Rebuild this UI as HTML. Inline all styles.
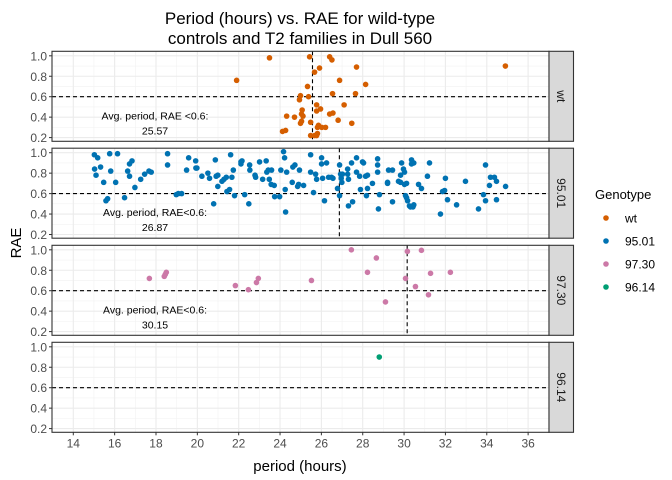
<!DOCTYPE html>
<html><head><meta charset="utf-8">
<style>
html,body{margin:0;padding:0;background:#fff;}
svg{display:block;font-family:"Liberation Sans",Arial,sans-serif;}
</style></head>
<body>
<svg id="chart" width="672" height="480" viewBox="0 0 672 480"></svg>
<script>
const genotypes = ["wt","95.01","97.30","96.14"];
const colors = ["#D55E00","#0072B2","#CC79A7","#009E73"];
const avgPeriods = [25.57, 26.87, 30.15, null];
const avgLabels = ["Avg. period, RAE <0.6:","Avg. period, RAE<0.6:","Avg. period, RAE<0.6:",null];
const xTicks = [14,16,18,20,22,24,26,28,30,32,34,36];
const yTicks = [0.2,0.4,0.6,0.8,1.0];
const yTickLabels = ["0.2","0.4","0.6","0.8","1.0"];

const wtPeriod = [23.49,25.43,26.40,26.51,27.70,25.91,25.67,21.90,26.88,28.14,25.33,26.54,27.65,24.99,25.38,24.94,25.77,27.10,25.96,25.77,25.07,25.04,24.32,24.70,25.11,26.40,26.56,26.81,27.47,25.04,24.99,25.48,25.86,25.81,26.02,26.20,24.27,24.12,25.48,25.67,25.81,25.77,34.90];
const wtRAE = [0.98,0.99,0.99,0.96,0.89,0.88,0.84,0.76,0.76,0.72,0.70,0.63,0.63,0.61,0.60,0.57,0.52,0.52,0.48,0.46,0.47,0.43,0.41,0.40,0.41,0.43,0.44,0.37,0.34,0.36,0.34,0.35,0.32,0.30,0.30,0.30,0.27,0.26,0.22,0.22,0.24,0.22,0.90];

const p9501Period = [15.02,15.18,15.03,15.10,15.32,15.47,15.76,15.81,16.14,16.05,15.58,15.66,16.48,16.84,16.72,16.63,16.72,16.98,17.26,17.45,17.66,17.77,18.56,18.56,18.98,19.08,19.24,19.58,19.48,19.92,19.93,19.98,20.22,20.51,20.59,20.79,20.87,20.91,20.99,20.99,21.19,21.29,21.40,21.43,21.56,21.61,21.67,21.74,21.80,22.11,22.16,22.11,22.29,22.49,22.53,22.54,22.79,22.82,23.01,23.16,23.33,23.36,23.48,23.43,23.57,23.72,23.74,23.98,23.59,24.04,24.17,24.22,24.25,24.32,24.27,
24.62,24.72,24.59,24.85,24.90,25.14,24.94,25.48,25.48,25.72,25.77,25.62,26.01,26.01,26.06,26.15,26.25,26.35,26.49,26.56,26.78,26.88,26.93,26.96,26.99,26.88,27.02,27.27,27.27,27.31,27.31,27.46,27.51,27.70,27.70,27.85,27.89,27.99,28.04,28.14,28.23,28.18,28.23,28.47,28.72,28.72,28.72,28.81,28.76,29.20,29.20,29.25,29.44,29.44,29.73,29.83,29.88,29.97,30.02,29.83,30.02,30.12,30.07,30.12,30.17,30.26,30.31,30.43,30.47,30.36,30.36,30.47,30.70,30.84,31.13,31.23,31.76,31.86,31.96,32.00,32.10,32.54,32.97,33.60,33.84,33.94,33.94,34.13,34.18,34.37,34.47,34.47,34.91];
const p9501RAE = [0.98,0.95,0.84,0.78,0.86,0.71,0.99,0.82,0.99,0.71,0.53,0.55,0.56,0.92,0.89,0.82,0.77,0.66,0.74,0.79,0.82,0.81,0.99,0.88,0.59,0.60,0.60,0.95,0.83,0.92,0.85,0.85,0.77,0.80,0.75,0.50,0.93,0.77,0.78,0.67,0.72,0.74,0.76,0.62,0.64,0.98,0.76,0.83,0.58,0.91,0.92,0.89,0.59,0.50,0.88,0.83,0.78,0.76,0.91,0.74,0.92,0.81,0.74,0.83,0.69,0.68,0.57,0.57,0.83,0.83,1.01,0.95,0.64,0.81,0.42,
0.86,0.88,0.71,0.67,0.69,0.68,0.83,0.98,0.81,0.79,0.74,0.61,0.95,0.89,0.75,0.53,0.90,0.76,0.76,0.75,0.65,0.88,0.79,0.75,0.71,0.58,0.79,0.84,0.79,0.74,0.48,0.90,0.52,0.95,0.81,0.77,0.64,0.91,0.90,0.77,0.78,0.58,0.65,0.70,0.94,0.88,0.81,0.59,0.45,0.71,0.70,0.83,0.83,0.52,0.72,0.78,0.90,0.84,0.81,0.71,0.69,0.70,0.58,0.56,0.53,0.48,0.47,0.47,0.49,0.93,0.89,0.90,0.69,0.65,0.77,0.90,0.40,0.62,0.63,0.75,0.54,0.49,0.72,0.45,0.59,0.88,0.53,0.68,0.76,0.76,0.72,0.54,0.67];

const p9730Period = [17.68,18.40,18.50,18.45,21.84,22.47,22.86,22.95,25.52,27.45,28.23,28.66,29.10,30.07,30.16,30.55,30.84,31.18,31.28,32.24];
const p9730RAE = [0.72,0.74,0.78,0.76,0.65,0.61,0.68,0.72,0.70,1.00,0.78,0.92,0.49,0.72,0.985,0.64,0.995,0.56,0.77,0.78];

const p9614Period = [28.8];
const p9614RAE = [0.90];

const seriesPeriod = [wtPeriod,p9501Period,p9730Period,p9614Period];
const seriesRAE = [wtRAE,p9501RAE,p9730RAE,p9614RAE];

const NS="http://www.w3.org/2000/svg";
const svg=document.getElementById('chart');
function el(tag,attrs,parent){const e=document.createElementNS(NS,tag);for(const k in attrs)e.setAttribute(k,attrs[k]);(parent||svg).appendChild(e);return e;}

const L=52,R=549,panelTops=[51.3,148.2,245.3,342.3],PH=90;
const xMin=12.97,xMax=37.01,yMin=0.1637,yMax=1.0441;
const xs=v=>L+(v-xMin)/(xMax-xMin)*(R-L);
const ys=(p,v)=>panelTops[p]+PH-(v-yMin)/(yMax-yMin)*PH;

// title
const t=el('text',{x:300,y:24,'text-anchor':'middle','font-size':17,fill:'#000'});


t.textContent='Period (hours) vs. RAE for wild-type';
const t2=el('text',{x:300,y:44,'text-anchor':'middle','font-size':17,fill:'#000'});


t2.textContent='controls and T2 families in Dull 560';

for(let p=0;p<4;p++){
  const top=panelTops[p];
  const g=el('g',{});
  
  
  el('rect',{x:L,y:top,width:R-L,height:PH,fill:'#fff'},g);
  // minor grid
  for(let i=0;i<xTicks.length-1;i++){const x=xs((xTicks[i]+xTicks[i+1])/2);el('line',{x1:x,x2:x,y1:top,y2:top+PH,stroke:'#f2f2f2','stroke-width':0.6},g);}
  for(let i=0;i<yTicks.length-1;i++){const y=ys(p,(yTicks[i]+yTicks[i+1])/2);el('line',{x1:L,x2:R,y1:y,y2:y,stroke:'#f2f2f2','stroke-width':0.6},g);}
  xTicks.forEach(v=>{const x=xs(v);el('line',{x1:x,x2:x,y1:top,y2:top+PH,stroke:'#ebebeb','stroke-width':1.1},g);});
  yTicks.forEach((v,i)=>{const y=ys(p,v);el('line',{x1:L,x2:R,y1:y,y2:y,stroke:'#ebebeb','stroke-width':1.1},g);
    el('line',{x1:L-3,x2:L,y1:y,y2:y,stroke:'#333','stroke-width':1},g);
    const tl=el('text',{x:L-5,y:y+4.5,'text-anchor':'end','font-size':12,fill:'#4d4d4d'},g);
    
    
    tl.textContent=yTickLabels[i];});
  // hline
  const hl=el('line',{x1:L,x2:R,y1:ys(p,0.6),y2:ys(p,0.6),stroke:'#000','stroke-width':1.1,'stroke-dasharray':'4,3'},g);
  
  
  if(avgPeriods[p]!==null){
    const vl=el('line',{x1:xs(avgPeriods[p]),x2:xs(avgPeriods[p]),y1:top,y2:top+PH,stroke:'#000','stroke-width':1.1,'stroke-dasharray':'4,3'},g);
    
    
    const a1=el('text',{x:155,y:top+68,'text-anchor':'middle','font-size':10.5,fill:'#000'},g);
    
    
    a1.textContent=avgLabels[p];
    const a2=el('text',{x:155,y:top+83,'text-anchor':'middle','font-size':10.5,fill:'#000'},g);
    
    
    a2.textContent=avgPeriods[p].toFixed(2);
  }
  // points
  const px=seriesPeriod[p],py=seriesRAE[p];
  for(let i=0;i<px.length;i++){
    const c=el('circle',{cx:xs(px[i]),cy:ys(p,py[i]),r:2.8,fill:colors[p]},g);
    
    
  }
  el('rect',{x:L,y:top,width:R-L,height:PH,fill:'none',stroke:'#333','stroke-width':1.1},g);
  // strip
  const s=el('rect',{x:R,y:top,width:24.5,height:PH,fill:'#d9d9d9',stroke:'#333','stroke-width':1.1},g);
  
  
  const st=el('text',{x:0,y:0,'text-anchor':'middle','font-size':12,fill:'#1a1a1a',transform:`translate(${R+8},${top+PH/2}) rotate(90)`},g);
  
  
  st.textContent=genotypes[p];
}
// x axis
const lastBottom=panelTops[3]+PH;
xTicks.forEach(v=>{const x=xs(v);el('line',{x1:x,x2:x,y1:lastBottom,y2:lastBottom+3,stroke:'#333'});
  const tl=el('text',{x:x,y:lastBottom+15,'text-anchor':'middle','font-size':12,fill:'#4d4d4d'});
  
  
  tl.textContent=v;});
const xl=el('text',{x:300,y:471,'text-anchor':'middle','font-size':15,fill:'#000'});


xl.textContent='period (hours)';
const yl=el('text',{x:0,y:0,'text-anchor':'middle','font-size':15,fill:'#000',transform:'translate(21,243) rotate(-90)'});


yl.textContent='RAE';
// legend
const lt=el('text',{x:595,y:199,'font-size':13,fill:'#000'});


lt.textContent='Genotype';
genotypes.forEach((gname,i)=>{
  const y=218+i*23;
  const lg=el('g',{});
  
  
  el('circle',{cx:606,cy:y,r:2.8,fill:colors[i]},lg);
  const tx=el('text',{x:625,y:y+4.5,'font-size':12,fill:'#000'},lg);
  tx.textContent=gname;
});
</script>
</body></html>
